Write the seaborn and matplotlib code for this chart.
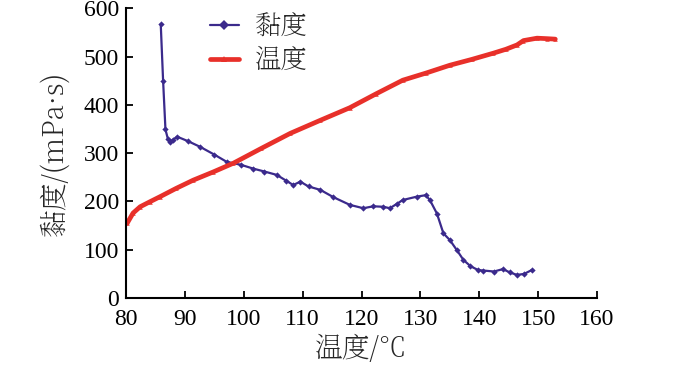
import pandas as pd
import seaborn as sns
import matplotlib.pyplot as plt

# 黏度曲线
visc_x = [85.9, 86.3, 86.7, 87.1, 87.5, 88.0, 88.7, 90.5, 92.6, 95.0, 97.1, 99.5,
          101.6, 103.5, 105.6, 107.2, 108.4, 109.6, 111.0, 113.0, 115.2, 118.0,
          120.3, 122.0, 123.7, 124.8, 126.0, 127.0, 129.4, 130.9, 131.6, 132.8,
          133.9, 135.0, 136.2, 137.3, 138.5, 139.8, 140.7, 142.5, 144.0, 145.2,
          146.4, 147.6, 148.9]
visc_y = [567, 450, 349, 330, 324, 328, 334, 325, 313, 297, 282, 276,
          268, 262, 255, 243, 234, 241, 231, 224, 209, 193,
          186, 190, 189, 186, 195, 203, 210, 213, 203, 175,
          134, 120, 99, 79, 66, 58, 57, 55, 60, 53,
          48, 50, 58]

# 温度曲线
temp_x = [80.2, 81.2, 82.4, 84.0, 85.8, 88.5, 91.4, 94.8, 98.2, 103.0, 107.9,
          113.0, 118.0, 122.5, 127.0, 131.0, 135.0, 138.7, 142.4, 144.5, 146.4,
          147.5, 149.8, 151.5, 152.9]
temp_y = [155, 176, 189, 199, 210, 227, 244, 261, 279, 310, 341,
          368, 394, 423, 451, 466, 482, 494, 507, 515, 524,
          533, 538, 537, 536]

xticks = [80, 90, 100, 110, 120, 130, 140, 150, 160]
yticks = [0, 100, 200, 300, 400, 500, 600]

df = pd.concat([
    pd.DataFrame({"x": visc_x, "y": visc_y, "series": "黏度"}),
    pd.DataFrame({"x": temp_x, "y": temp_y, "series": "温度"}),
])

fuente = ["Liberation Serif", "Noto Serif SC", "DejaVu Serif"]
fuente_cjk = ["Noto Serif SC", "DejaVu Serif"]

sns.set_theme(style="ticks")
plt.rcParams["font.family"] = fuente
plt.rcParams["xtick.direction"] = "in"
plt.rcParams["ytick.direction"] = "in"

fig = plt.figure(figsize=(7, 3.74), dpi=100)
ax = fig.add_axes([0.18, 0.203, 0.673, 0.775])

colores = {"黏度": "#3b2a8c", "温度": "#e8302a"}
ax = sns.lineplot(
    data=df, x="x", y="y", hue="series", style="series",
    palette=colores, markers={"黏度": "D", "温度": "^"}, dashes=False,
    markersize=3.2, markeredgewidth=0, ax=ax, sort=False, estimator=None,
)
for line in ax.lines:
    if line.get_color() == colores["温度"]:
        line.set_linewidth(3.4)
    else:
        line.set_linewidth(1.6)

ax.set_xlim(80, 160)
ax.set_ylim(0, 600)
ax.set_xticks(xticks)
ax.set_yticks(yticks)
ax.set_xticklabels([str(t) for t in xticks], family=fuente)
ax.set_yticklabels([str(t) for t in yticks], family=fuente)
ax.tick_params(labelsize=17, length=5, width=1.3, colors="black")
ax.tick_params(axis="x", pad=8)
ax.tick_params(axis="y", pad=5)
for s in ["left", "bottom"]:
    ax.spines[s].set_linewidth(1.5)
    ax.spines[s].set_color("black")
sns.despine(ax=ax)

ax.set_xlabel("温度/℃", fontsize=20, family=fuente_cjk, labelpad=3)
ax.set_ylabel("黏度/(mPa·s)", fontsize=20, family=fuente_cjk, labelpad=10)

handles, labels = ax.get_legend_handles_labels()
for h in handles:
    h.set_markersize(5)
leg = ax.legend(handles, labels, loc="upper left", bbox_to_anchor=(0.178, 0.985),
                borderaxespad=0, borderpad=0,
                frameon=False, handlelength=1.1, labelspacing=0.2, handletextpad=0.6,
                prop={"family": "Noto Serif SC", "size": 19})

fig.savefig("out.png", dpi=100)
